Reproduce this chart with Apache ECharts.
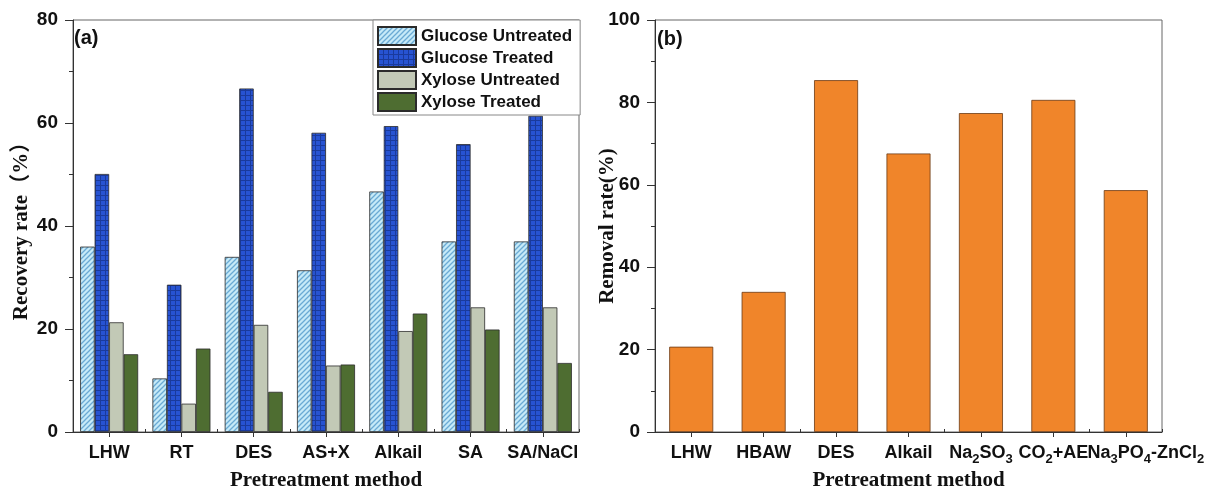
<!DOCTYPE html>
<html>
<head>
<meta charset="utf-8">
<script src="https://cdn.jsdelivr.net/npm/echarts@6/dist/echarts.min.js"></script>
<style>
html,body{margin:0;padding:0;background:#fff;}
#c{width:1207px;height:492px;}
</style>
</head>
<body>
<div id="c"></div>
<script>
// ---- data ----
const catsA = ['LHW', 'RT', 'DES', 'AS+X', 'Alkail', 'SA', 'SA/NaCl'];
const glucoseUntreated = [36.0, 10.4, 34.0, 31.4, 46.7, 37.0, 37.0];
const glucoseTreated   = [50.1, 28.6, 66.7, 58.1, 59.4, 55.9, 61.4];
const xyloseUntreated  = [21.3, 5.5, 20.8, 12.9, 19.6, 24.2, 24.2];
const xyloseTreated    = [15.1, 16.2, 7.8, 13.1, 23.0, 19.9, 13.4];
const seriesNamesA = ['Glucose Untreated', 'Glucose Treated', 'Xylose Untreated', 'Xylose Treated'];
const catsB = ['LHW', 'HBAW', 'DES', 'Alkail', 'Na2SO3', 'CO2+AE', 'Na3PO4-ZnCl2'];
const removalRate = [20.7, 34.0, 85.4, 67.6, 77.4, 80.6, 58.7];
const ticksA = {min: 0, max: 80, interval: 20};
const ticksB = {min: 0, max: 100, interval: 20};

// ---- patterns ----
function hatchPattern() {
  const c = document.createElement('canvas');
  c.width = 5; c.height = 5;
  const g = c.getContext('2d');
  g.fillStyle = '#c6eaf8'; g.fillRect(0, 0, 5, 5);
  g.strokeStyle = '#6aaad4'; g.lineWidth = 1.3;
  g.beginPath();
  g.moveTo(-1, 6); g.lineTo(6, -1);
  g.moveTo(-1, 1); g.lineTo(1, -1);
  g.moveTo(4, 6); g.lineTo(6, 4);
  g.stroke();
  return {image: c, repeat: 'repeat'};
}
function gridPattern() {
  const c = document.createElement('canvas');
  c.width = 5; c.height = 5;
  const g = c.getContext('2d');
  g.fillStyle = '#2753d2'; g.fillRect(0, 0, 5, 5);
  g.fillStyle = '#1a3a9c';
  g.fillRect(0, 0, 5, 1);
  g.fillRect(0, 0, 1, 5);
  return {image: c, repeat: 'repeat'};
}

const SANS = "'Liberation Sans', Arial, sans-serif";
const SERIF = "'Liberation Serif', 'Times New Roman', serif";
const axisColor = '#333';

function yAxisCfg(gridIndex, t, name, gap, margin) {
  return {
    type: 'value', gridIndex, min: t.min, max: t.max, interval: t.interval,
    name, nameLocation: 'middle', nameGap: gap, nameRotate: 90, nameMoveOverlap: false,
    nameTextStyle: {fontFamily: SERIF + ", 'Noto Sans CJK SC'", fontWeight: 'bold', fontSize: 21, color: '#111'},
    axisLine: {show: true, lineStyle: {color: axisColor, width: 1}},
    axisTick: {show: true, inside: false, length: 8, lineStyle: {color: axisColor}},
    minorTick: {show: true, splitNumber: 2, length: 4, lineStyle: {color: axisColor}},
    splitLine: {show: false},
    axisLabel: {fontFamily: SANS, fontWeight: 'bold', fontSize: 19, color: '#111', margin}
  };
}
function xMainCfg(gridIndex, cats, extra) {
  const lab = Object.assign({fontFamily: SANS, fontWeight: 'bold', fontSize: 18, color: '#111', margin: 12, interval: 0, hideOverlap: false}, extra || {});
  return {
    type: 'category', gridIndex, data: cats, position: 'bottom',
    name: 'Pretreatment method', nameLocation: 'middle', nameGap: 38, nameMoveOverlap: false,
    nameTextStyle: {fontFamily: SERIF, fontWeight: 'bold', fontSize: 21, color: '#111'},
    axisLine: {show: true, lineStyle: {color: axisColor, width: 1}},
    axisTick: {show: true, alignWithLabel: true, inside: false, length: 5, lineStyle: {color: axisColor}},
    axisLabel: lab,
    splitLine: {show: false}
  };
}
function xBoundCfg(gridIndex, cats) {
  return {
    type: 'category', gridIndex, data: cats, position: 'bottom',
    axisLine: {show: false},
    axisTick: {show: true, alignWithLabel: false, inside: true, length: 3, lineStyle: {color: axisColor}},
    axisLabel: {show: false},
    splitLine: {show: false}
  };
}

// chemical formula labels: digits as subscripts; the last, long label is nudged right
const subFmt = (v, idx) => (idx === catsB.length - 1 ? '{pad| }' : '') + v.replace(/(\d)/g, '{s|$1}');
const labelB = {
  formatter: subFmt,
  lineHeight: 26,
  margin: 8,
  rich: {
    s: {fontFamily: SANS, fontWeight: 'bold', fontSize: 13, color: '#111', verticalAlign: 'bottom', lineHeight: 12},
    pad: {width: 40, fontSize: 18, lineHeight: 26}
  }
};

const barBorder = {borderColor: '#2b2b2b', borderWidth: 0.8};
const colorsA = [hatchPattern(), gridPattern(), '#c2c9b6', '#4e6d31'];
const valuesA = [glucoseUntreated, glucoseTreated, xyloseUntreated, xyloseTreated];

const seriesA = seriesNamesA.map((n, i) => ({
  name: n, type: 'bar', xAxisIndex: 0, yAxisIndex: 0, data: valuesA[i],
  barWidth: 14.5, barGap: '0%',
  itemStyle: Object.assign({color: colorsA[i]}, barBorder)
}));

const option = {
  animation: false,
  backgroundColor: '#fff',
  grid: [
    {left: 73, top: 20, width: 506, height: 412, show: true, borderColor: '#666', borderWidth: 1, backgroundColor: 'transparent', containLabel: false, outerBoundsMode: 'none'},
    {left: 655, top: 20, width: 507, height: 412, show: true, borderColor: '#666', borderWidth: 1, backgroundColor: 'transparent', containLabel: false, outerBoundsMode: 'none'}
  ],
  legend: {
    data: seriesNamesA, orient: 'vertical', left: 373, top: 20,
    backgroundColor: '#fff', borderColor: '#888', borderWidth: 1,
    padding: [6, 8, 3, 4], itemWidth: 38, itemHeight: 18, itemGap: 2,
    icon: 'rect',
    textStyle: {fontFamily: SANS, fontWeight: 'bold', fontSize: 17, color: '#111'},
    selectedMode: false
  },
  xAxis: [
    xMainCfg(0, catsA),
    xBoundCfg(0, catsA),
    xMainCfg(1, catsB, labelB),
    xBoundCfg(1, catsB)
  ],
  yAxis: [
    yAxisCfg(0, ticksA, 'Recovery rate（%）', 41, 15),
    yAxisCfg(1, ticksB, 'Removal rate(%)', 37, 15)
  ],
  graphic: [
    {type: 'text', left: 74, top: 28, style: {text: '(a)', font: "bold 20px 'Liberation Sans', Arial, sans-serif", fill: '#111'}},
    {type: 'text', left: 657, top: 29, style: {text: '(b)', font: "bold 20px 'Liberation Sans', Arial, sans-serif", fill: '#111'}}
  ],
  series: seriesA.concat([{
    name: 'Removal rate', type: 'bar', xAxisIndex: 2, yAxisIndex: 1, data: removalRate,
    barWidth: 44,
    itemStyle: {color: '#f0852a', borderColor: '#6b3a14', borderWidth: 0.8}
  }])
};

const chart = echarts.init(document.getElementById('c'), null, {renderer: 'canvas'});
chart.setOption(option);
</script>
</body>
</html>
